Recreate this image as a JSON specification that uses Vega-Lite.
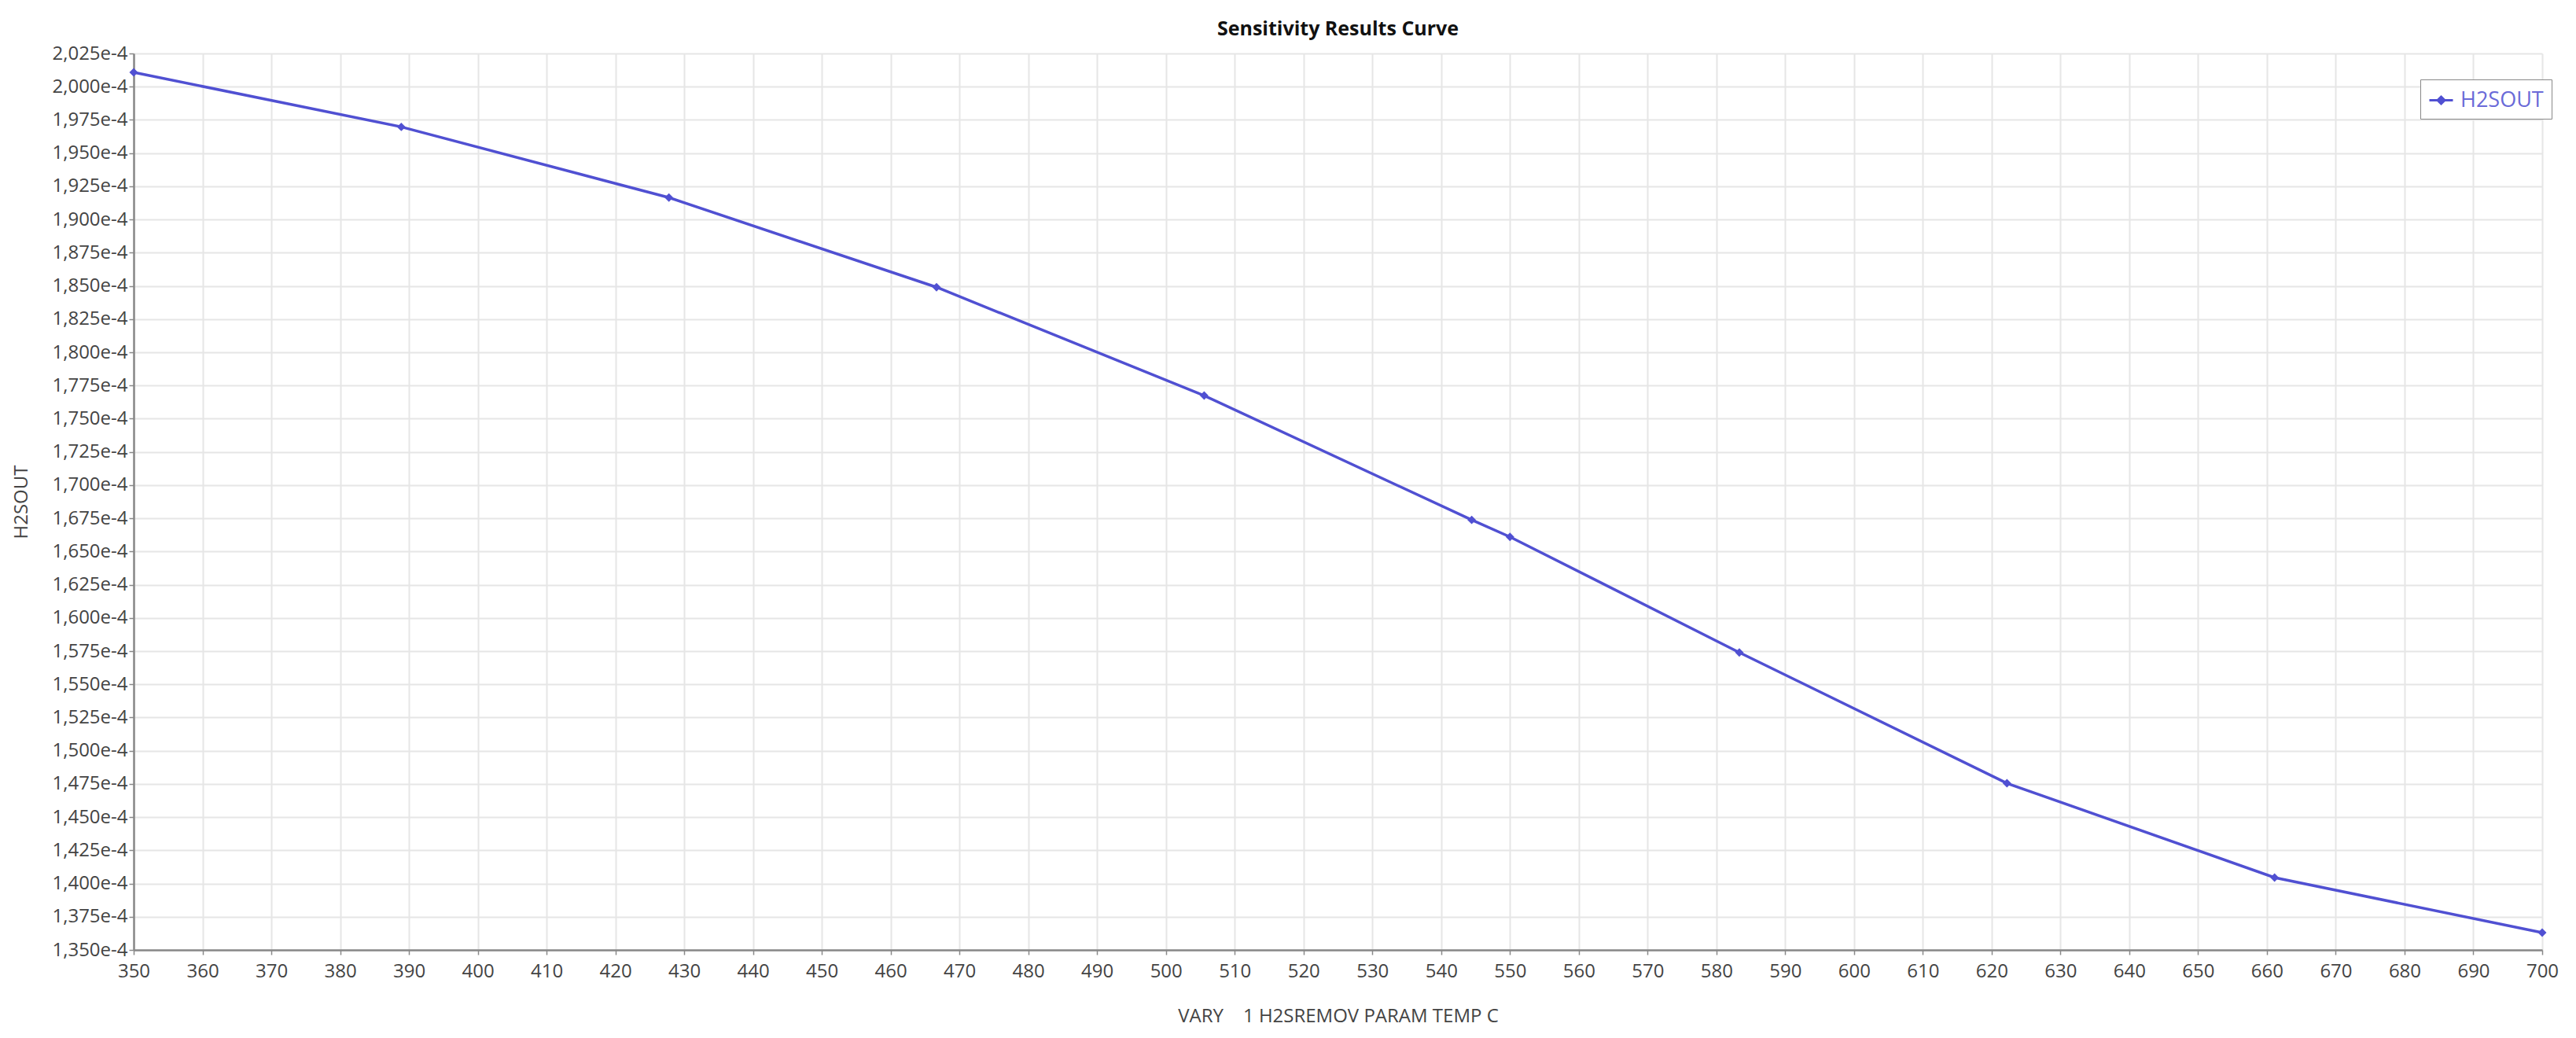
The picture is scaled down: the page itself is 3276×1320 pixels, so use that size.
{
  "$schema": "https://vega.github.io/schema/vega-lite/v6.json",
  "width": 3063,
  "height": 1140,
  "autosize": {"type": "none"},
  "padding": {"left": 170, "top": 68, "right": 43, "bottom": 112},
  "background": "white",
  "title": {
    "text": "Sensitivity Results Curve",
    "fontSize": 25,
    "font": "Open Sans",
    "fontWeight": "bold",
    "color": "#111111",
    "offset": 6,
    "anchor": "middle"
  },
  "config": {
    "view": {"stroke": null},
    "font": "Open Sans"
  },
  "data": {
    "values": [
      {"temp": 350, "h2sout": 0.00020108},
      {"temp": 388.89, "h2sout": 0.00019697},
      {"temp": 427.78, "h2sout": 0.00019165},
      {"temp": 466.67, "h2sout": 0.00018490},
      {"temp": 505.56, "h2sout": 0.00017674},
      {"temp": 544.44, "h2sout": 0.00016738},
      {"temp": 550, "h2sout": 0.00016610},
      {"temp": 583.33, "h2sout": 0.00015740},
      {"temp": 622.22, "h2sout": 0.00014755},
      {"temp": 661.11, "h2sout": 0.00014045},
      {"temp": 700, "h2sout": 0.00013630}
    ]
  },
  "mark": {
    "type": "line",
    "strokeWidth": 3.5,
    "point": {"filled": true, "shape": "diamond", "size": 120}
  },
  "encoding": {
    "x": {
      "field": "temp",
      "type": "quantitative",
      "scale": {"domain": [350, 700], "nice": false, "zero": false},
      "axis": {
        "title": "VARY\u00a0\u00a0\u00a0\u00a01 H2SREMOV PARAM TEMP C",
        "values": [350,360,370,380,390,400,410,420,430,440,450,460,470,480,490,500,510,520,530,540,550,560,570,580,590,600,610,620,630,640,650,660,670,680,690,700],
        "labelFontSize": 24,
        "labelColor": "#444444",
        "labelPadding": 9,
        "labelFlush": false,
        "labelOverlap": false,
        "titleFontSize": 24,
        "titleFontWeight": "normal",
        "titleColor": "#444444",
        "titlePadding": 33,
        "domainColor": "#888888",
        "domainWidth": 2.5,
        "tickColor": "#888888",
        "tickSize": 6,
        "tickWidth": 1.5,
        "gridColor": "#e6e6e6",
        "gridWidth": 2
      }
    },
    "y": {
      "field": "h2sout",
      "type": "quantitative",
      "scale": {"domain": [0.000135, 0.0002025], "nice": false, "zero": false},
      "axis": {
        "title": "H2SOUT",
        "values": [0.000135,0.0001375,0.00014,0.0001425,0.000145,0.0001475,0.00015,0.0001525,0.000155,0.0001575,0.00016,0.0001625,0.000165,0.0001675,0.00017,0.0001725,0.000175,0.0001775,0.00018,0.0001825,0.000185,0.0001875,0.00019,0.0001925,0.000195,0.0001975,0.0002,0.0002025],
        "labelExpr": "replace(format(datum.value * 10000, '.3f'), '.', ',') + 'e-4'",
        "labelFontSize": 24,
        "labelColor": "#444444",
        "labelPadding": 2,
        "labelOverlap": false,
        "labelFlush": false,
        "titleFontSize": 24,
        "titleFontWeight": "normal",
        "titleColor": "#444444",
        "titlePadding": 26,
        "domainColor": "#888888",
        "domainWidth": 2.5,
        "tickColor": "#888888",
        "tickSize": 6,
        "tickWidth": 1.5,
        "gridColor": "#e6e6e6",
        "gridWidth": 2
      }
    },
    "color": {
      "datum": "H2SOUT",
      "type": "nominal",
      "scale": {"range": ["#5050d2"]},
      "legend": {
        "title": null,
        "orient": "none",
        "legendX": 2908,
        "legendY": 33,
        "strokeColor": "#888888",
        "fillColor": "white",
        "padding": 10,
        "symbolType": "M-1,0H1M-0.3,0L0,-0.3L0.3,0L0,0.3Z",
        "symbolSize": 900,
        "symbolStrokeWidth": 3,
        "symbolFillColor": "#5050d2",
        "symbolStrokeColor": "#5050d2",
        "labelFontSize": 27,
        "labelColor": "#6a6ad8",
        "labelOffset": 8
      }
    }
  }
}
